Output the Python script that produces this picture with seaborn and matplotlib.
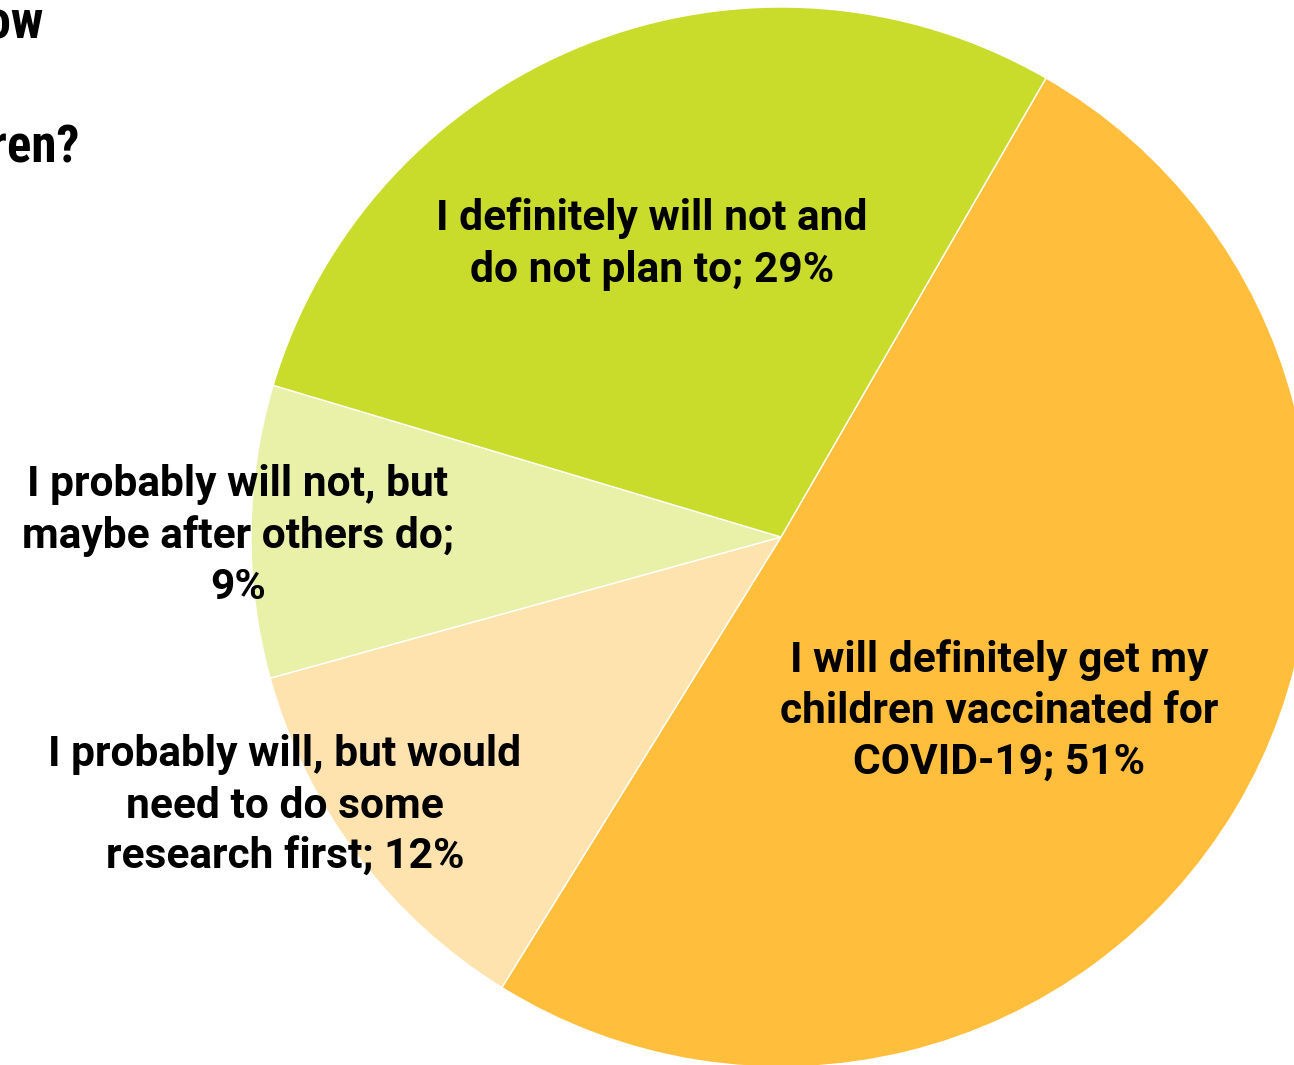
import matplotlib
matplotlib.use("Agg")
import matplotlib.pyplot as plt
from matplotlib import font_manager
import seaborn as sns

# ---- data ----
labels = [
    "I will definitely get my\nchildren vaccinated for\nCOVID-19; 51%",
    "I probably will, but would\nneed to do some\nresearch first; 12%",
    "I probably will not, but\nmaybe after others do;\n9%",
    "I definitely will not and\ndo not plan to; 29%",
]
values = [51, 12, 9, 29]
colors = ["#FFBE3C", "#FEE3AF", "#E9F0A8", "#CADC2B"]
title_first = "Which of the following best describes how"
title_last = "children?"

sns.set_theme(style="white")
names = {f.name for f in font_manager.fontManager.ttflist}
family = "DejaVu Sans"
for cand in ["Roboto", "Lato", "Liberation Sans"]:
    if cand in names:
        family = cand
        break
cond = family
for cand in ["Roboto Condensed", "Liberation Sans Narrow", "DejaVu Sans Condensed"]:
    if cand in names:
        cond = cand
        break
plt.rcParams["font.family"] = [family, "DejaVu Sans"]

W, H = 1294, 1065
fig = plt.figure(figsize=(W / 100, H / 100), dpi=100)
ax = fig.add_axes([0, 0, 1, 1])
cx, cy, r = 781, 537, 530
ax.pie(values, colors=colors, startangle=60, counterclock=False,
       wedgeprops=dict(edgecolor="white", linewidth=1.0))
ax.set_xlim(-cx / r, (W - cx) / r)
ax.set_ylim(-(H - cy) / r, cy / r)
ax.set_aspect("equal")
ax.axis("off")

# label positions in pixels (centre of text block)
pos = [(999, 711), (285, 806), (238, 536), (652, 244)]
texts = []
for lab, (px, py) in zip(labels, pos):
    t = fig.text(px / W, 1 - py / H, lab, ha="center", va="center",
                 fontsize=30, fontweight="bold", color="black",
                 linespacing=1.32)
    texts.append(t)

fig.canvas.draw()
rend = fig.canvas.get_renderer()
w = texts[3].get_window_extent(rend).width
scale = 431 / w
body = 30 * scale
for t in texts:
    t.set_fontsize(body)

fig.text(43 / W, 1 - 38 / H, title_first, ha="right", va="baseline",
         fontsize=body * 1.2, fontweight="bold", color="black",
         family=[cond, "DejaVu Sans"])
fig.text(80 / W, 1 - 162 / H, title_last, ha="right", va="baseline",
         fontsize=body * 1.2, fontweight="bold", color="black",
         family=[cond, "DejaVu Sans"])

fig.savefig("out.png", dpi=100)
